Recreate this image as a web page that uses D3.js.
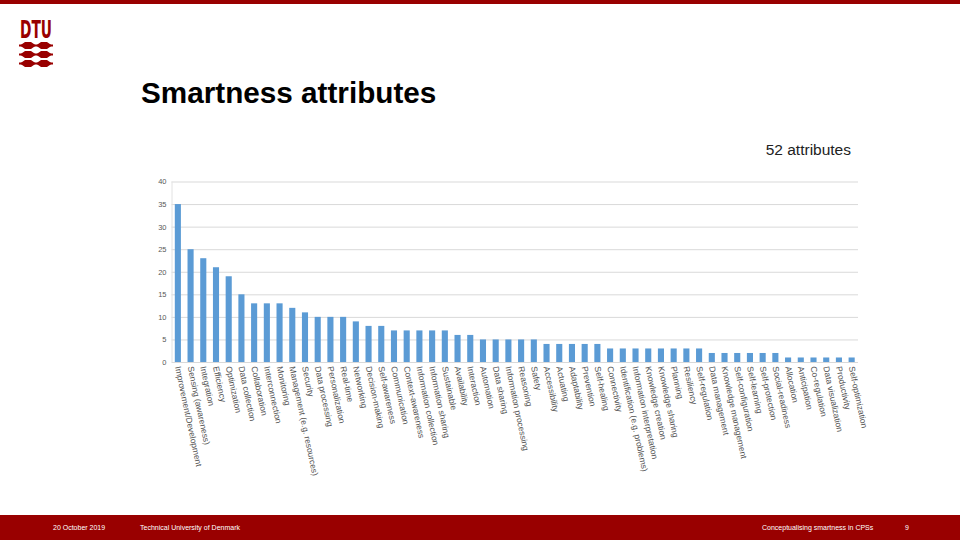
<!DOCTYPE html>
<html>
<head>
<meta charset="utf-8">
<script src="https://cdn.jsdelivr.net/npm/d3@7/dist/d3.min.js"></script>
<style>
  html, body { margin: 0; padding: 0; background: #fff; }
  svg { display: block; }
</style>
</head>
<body>
<svg id="chart" width="960" height="540"></svg>
<script>
const categories = [
  "Improvement/Development", "Sensing (awareness)", "Integration", "Efficiency", "Optimization",
  "Data collection", "Collaboration", "Interconnection", "Monitoring", "Management (e.g. resources)",
  "Security", "Data processing", "Personalization", "Real-time", "Networking",
  "Decision-making", "Self-awareness", "Communication", "Context-awareness", "Information collection",
  "Information sharing", "Sustainable", "Availability", "Interaction", "Automation",
  "Data sharing", "Information processing", "Reasoning", "Safety", "Accessibility",
  "Actuating", "Adaptability", "Prevention", "Self-healing", "Connectivity",
  "Identification (e.g. problems)", "Information interpretation", "Knowledge creation", "Knowledge sharing", "Planning",
  "Resiliency", "Self-regulation", "Data management", "Knowledge management", "Self-configuration",
  "Self-learning", "Self-protection", "Social-readiness", "Allocation", "Anticipation",
  "Co-regulation", "Data visualization", "Productivity", "Self-optimization"
];
const counts = [
  35, 25, 23, 21, 19,
  15, 13, 13, 13, 12,
  11, 10, 10, 10, 9,
  8, 8, 7, 7, 7,
  7, 7, 6, 6, 5,
  5, 5, 5, 5, 4,
  4, 4, 4, 4, 3,
  3, 3, 3, 3, 3,
  3, 3, 2, 2, 2,
  2, 2, 2, 1, 1,
  1, 1, 1, 1
];
const yTicks = [0, 5, 10, 15, 20, 25, 30, 35, 40];
const titleText = "Smartness attributes";
const subtitleText = "52 attributes";
const footerTexts = ["20 October 2019", "Technical University of Denmark", "Conceptualising smartness in CPSs", "9"];

(function () {
const svg = d3.select("#chart");
const RED = "#990000";
const FONT = "'Liberation Sans', Arial, sans-serif";

// top band
svg.append("rect").attr("x", 0).attr("y", 0).attr("width", 960).attr("height", 4).attr("fill", RED);
// footer band
svg.append("rect").attr("x", 0).attr("y", 515).attr("width", 960).attr("height", 25).attr("fill", RED);

// DTU logo
const logo = svg.append("g");
logo.append("text").attr("x", 20).attr("y", 37.5)
  .attr("font-family", "'Liberation Sans Narrow', 'DejaVu Sans Condensed', sans-serif")
  .attr("font-weight", "bold").attr("font-size", 24)
  .attr("textLength", 32).attr("lengthAdjust", "spacingAndGlyphs")
  .attr("fill", RED).text("DTU");
[45.5, 54.5, 63.5].forEach(cy => {
  logo.append("rect").attr("x", 19).attr("y", cy - 1).attr("width", 34).attr("height", 2).attr("fill", RED);
  [28, 44].forEach(cx => {
    logo.append("path")
      .attr("d", `M${cx - 8},${cy} L${cx - 3},${cy - 3.4} L${cx + 3},${cy - 3.4} L${cx + 8},${cy} L${cx + 3},${cy + 3.4} L${cx - 3},${cy + 3.4} Z`)
      .attr("fill", RED);
  });
});

// title
svg.append("text").attr("x", 141).attr("y", 103)
  .attr("font-family", FONT).attr("font-weight", "bold").attr("font-size", 29.7)
  .attr("fill", "#000").text(titleText);

svg.append("text").attr("x", 851).attr("y", 155).attr("text-anchor", "end")
  .attr("font-family", FONT).attr("font-size", 15.5)
  .attr("fill", "#222").text(subtitleText);

// chart
const pLeft = 171.5, pRight = 858, pTop = 181.5, pBottom = 362;
const x = d3.scaleBand().domain(categories).range([pLeft, pRight]).paddingInner(0.52).paddingOuter(0.26);
const y = d3.scaleLinear().domain([0, 40]).range([pBottom, pTop]);

const grid = svg.append("g");
grid.selectAll("line").data(yTicks).join("line")
  .attr("x1", pLeft).attr("x2", pRight)
  .attr("y1", d => y(d) + 0.5).attr("y2", d => y(d) + 0.5)
  .attr("stroke", "#d9d9d9").attr("stroke-width", 1);
svg.append("line").attr("x1", pLeft + 0.5).attr("x2", pLeft + 0.5).attr("y1", pTop).attr("y2", pBottom)
  .attr("stroke", "#e2e2e2").attr("stroke-width", 1);

const yAxis = d3.axisLeft(y).tickValues(yTicks).tickSize(0).tickPadding(0);
const yg = svg.append("g").attr("transform", `translate(${pLeft - 5},0)`).call(yAxis);
yg.select(".domain").remove();
yg.selectAll("text").attr("font-family", FONT).attr("font-size", 7.5).attr("fill", "#595959");

svg.append("g").selectAll("rect").data(counts).join("rect")
  .attr("x", (d, i) => x(categories[i]))
  .attr("y", d => y(d))
  .attr("width", x.bandwidth())
  .attr("height", d => y(0) - y(d))
  .attr("fill", "#5b9bd5");

// category labels
const xAxis = d3.axisBottom(x).tickSize(0).tickPadding(0);
const xg = svg.append("g").attr("transform", `translate(0,${pBottom})`).call(xAxis);
xg.select(".domain").remove();
xg.selectAll(".tick text")
  .attr("font-family", FONT).attr("font-size", 8.5).attr("fill", "#505050")
  .attr("text-anchor", "start")
  .attr("x", 0).attr("y", 0).attr("dy", "0.35em")
  .attr("transform", "translate(0,4.5) rotate(78)");

// footer texts
const fx = [53, 140, 762, 905];
footerTexts.forEach((t, i) => {
  svg.append("text").attr("x", fx[i]).attr("y", 530)
    .attr("font-family", FONT).attr("font-size", 7)
    .attr("fill", "#fff").text(t);
});
})();
</script>
</body>
</html>
